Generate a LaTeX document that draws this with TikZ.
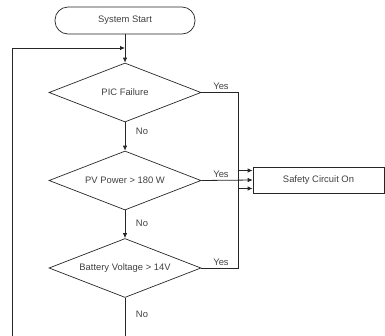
\documentclass[tikz,border=0pt]{standalone}
\usepackage{fontspec}
\setmainfont{Liberation Sans}
\usetikzlibrary{shapes.geometric,arrows.meta}
\begin{document}
\begin{tikzpicture}[x=1pt,y=-1pt,
  every node/.style={font=\fontsize{9.4}{10}\selectfont, text=black!75},
  line/.style={draw=black!85, line width=0.8pt},
  arr/.style={line, -{Latex[length=5pt,width=4.5pt]}},
  dia/.style={draw=black!85, line width=0.7pt, shape=diamond, aspect=2.58, minimum width=152pt, minimum height=59pt, inner sep=0pt},
  lbl/.style={inner sep=0pt}]
\useasboundingbox (0,0) rectangle (385,335);
\node[draw=black!85, line width=0.7pt, rounded corners=13pt, minimum width=140pt, minimum height=27pt, inner sep=0pt] (start) at (125,20.5) {System Start};
\node[dia] (d1) at (125,92.5) {PIC Failure};
\node[dia] (d2) at (125,180.5) {PV Power > 180 W};
\node[dia] (d3) at (125,268) {Battery Voltage > 14V};
\node[draw=black!85, line width=0.7pt, minimum width=131pt, minimum height=26pt, inner sep=0pt] (safe) at (318.5,180) {Safety Circuit On};
\coordinate (lb) at (12,336);
\coordinate (lt) at (12,48);
\coordinate (lm) at (125,48);
\coordinate (bot) at (125,336);
\coordinate (y1) at (238,92.5);
\coordinate (y3) at (238,268);
\draw[arr] (lb) -- (lt) -- (lm);
\draw[arr] (start) -- (d1);
\draw[arr] (d1) -- (d2);
\draw[arr] (d2) -- (d3);
\draw[line] (d3) -- (bot);
\draw[arr] (d1.east) -- (y1) |- ([yshift=-8.5pt]safe.west);
\draw[arr] (d2.east) -- (safe.west);
\draw[arr] (d3.east) -- (y3) |- ([yshift=9.5pt]safe.west);
\node[lbl] at (221,86) {Yes};
\node[lbl] at (221,174.5) {Yes};
\node[lbl] at (221,262) {Yes};
\node[lbl] at (142,131) {No};
\node[lbl] at (142,223) {No};
\node[lbl] at (142,314) {No};
\end{tikzpicture}
\end{document}
